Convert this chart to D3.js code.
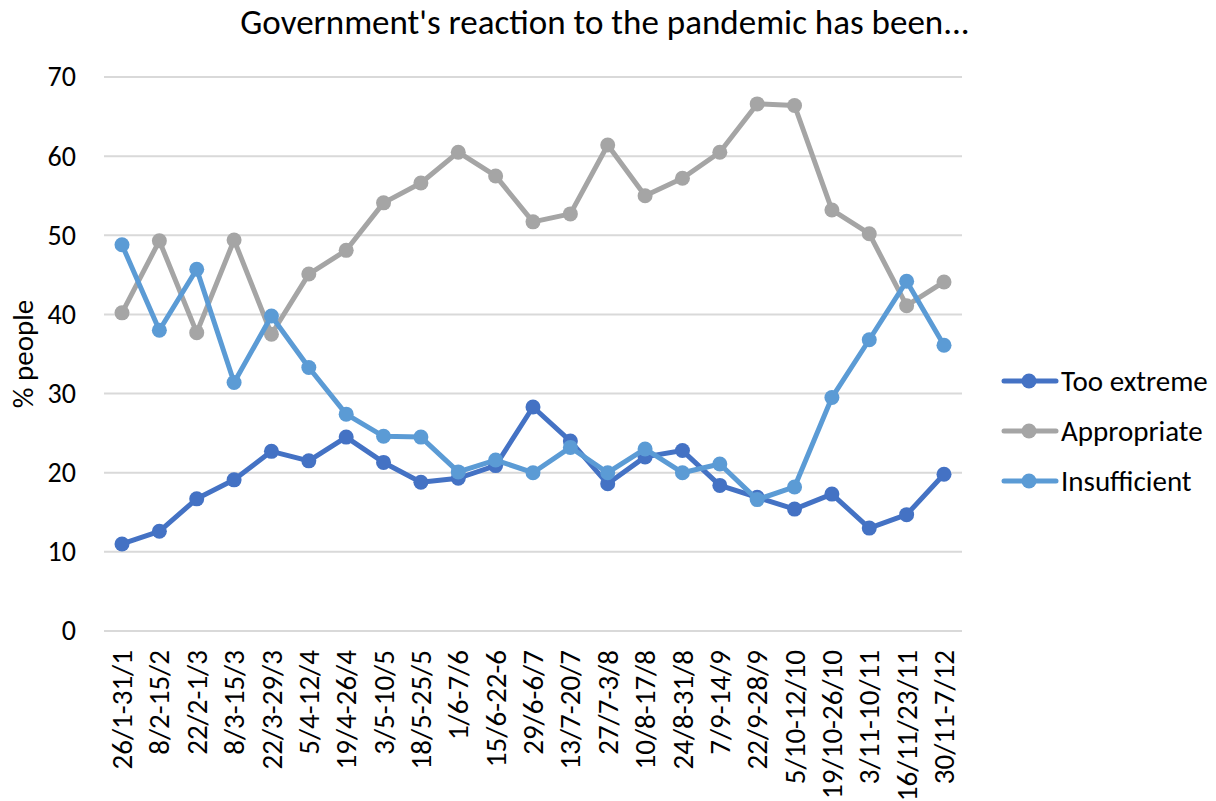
<!DOCTYPE html>
<html>
<head>
<meta charset="utf-8">
<script src="https://cdn.jsdelivr.net/npm/d3@7"></script>
<style>
  body { margin: 0; background: #fff; }
</style>
</head>
<body>
<svg id="chart"></svg>
<script>
// Data
const periods = ["26/1-31/1", "8/2-15/2", "22/2-1/3", "8/3-15/3", "22/3-29/3", "5/4-12/4",
  "19/4-26/4", "3/5-10/5", "18/5-25/5", "1/6-7/6", "15/6-22-6", "29/6-6/7", "13/7-20/7",
  "27/7-3/8", "10/8-17/8", "24/8-31/8", "7/9-14/9", "22/9-28/9", "5/10-12/10",
  "19/10-26/10", "3/11-10/11", "16/11/23/11", "30/11-7/12"];

const tooExtreme = [11.0, 12.6, 16.7, 19.1, 22.7, 21.5, 24.5, 21.3, 18.8, 19.3, 20.9, 28.3,
  24.0, 18.6, 22.0, 22.8, 18.4, 16.9, 15.4, 17.3, 13.0, 14.7, 19.8];
const appropriate = [40.2, 49.3, 37.7, 49.4, 37.5, 45.1, 48.1, 54.1, 56.6, 60.5, 57.5, 51.7,
  52.7, 61.4, 55.0, 57.2, 60.5, 66.6, 66.4, 53.2, 50.2, 41.1, 44.1];
const insufficient = [48.8, 38.0, 45.7, 31.4, 39.8, 33.3, 27.4, 24.6, 24.5, 20.1, 21.6, 20.0,
  23.2, 20.0, 23.0, 20.0, 21.1, 16.6, 18.2, 29.5, 36.8, 44.2, 36.1];

const yTicks = [0, 10, 20, 30, 40, 50, 60, 70];

const series = [
  {name: "Too extreme", values: tooExtreme, color: "#4472c4"},
  {name: "Appropriate", values: appropriate, color: "#a5a5a5"},
  {name: "Insufficient", values: insufficient, color: "#5b9bd5"}
];

const width = 1216, height = 801;
const margin = {top: 77, bottom: 170, left: 104, right: 254};
const font = "Calibri, Carlito, sans-serif";

const svg = d3.select("#chart")
  .attr("width", width)
  .attr("height", height)
  .style("font-family", font);

const xScale = d3.scalePoint()
  .domain(periods)
  .range([122, 944]);

const yScale = d3.scaleLinear()
  .domain([0, 70])
  .range([height - margin.bottom, margin.top]);

// Gridlines
svg.append("g")
  .selectAll("line")
  .data(yTicks)
  .enter().append("line")
  .attr("x1", margin.left)
  .attr("x2", width - margin.right)
  .attr("y1", d => yScale(d))
  .attr("y2", d => yScale(d))
  .attr("stroke", "#d9d9d9")
  .attr("stroke-width", 2);

// Y axis labels
const yAxis = svg.append("g")
  .attr("transform", `translate(${margin.left - 28},0)`)
  .call(d3.axisLeft(yScale).tickValues(yTicks).tickSize(0).tickPadding(0));
yAxis.select(".domain").remove();
yAxis.attr("font-family", font).attr("font-size", 28);
yAxis.selectAll("text")
  .attr("fill", "#000");

// X axis labels
const xAxis = svg.append("g")
  .attr("transform", `translate(0,${height - margin.bottom + 19})`)
  .call(d3.axisBottom(xScale).tickSize(0).tickPadding(0));
xAxis.select(".domain").remove();
xAxis.attr("font-family", font).attr("font-size", 29);
xAxis.selectAll("text")
  .attr("fill", "#000")
  .attr("text-anchor", "end")
  .attr("y", 0)
  .attr("dy", "0.33em")
  .attr("transform", "rotate(-90)");

// Y axis title
svg.append("text")
  .attr("transform", `translate(33,${(yScale(0) + yScale(70)) / 2}) rotate(-90)`)
  .attr("text-anchor", "middle")
  .style("font-size", "29px")
  .text("% people");

// Title
svg.append("text")
  .attr("x", 605)
  .attr("y", 34)
  .attr("text-anchor", "middle")
  .style("font-size", "35px")
  .text("Government's reaction to the pandemic has been...");

// Lines and points
const line = d3.line()
  .x((d, i) => xScale(periods[i]))
  .y(d => yScale(d));

series.forEach(function(s) {
  const g = svg.append("g");
  g.append("path")
    .datum(s.values)
    .attr("d", line)
    .attr("fill", "none")
    .attr("stroke", s.color)
    .attr("stroke-width", 5)
    .attr("stroke-linejoin", "round");
  g.selectAll("circle")
    .data(s.values)
    .enter().append("circle")
    .attr("cx", (d, i) => xScale(periods[i]))
    .attr("cy", d => yScale(d))
    .attr("r", 7.5)
    .attr("fill", s.color);
});

// Legend
const legend = svg.selectAll(".legend")
  .data(series)
  .enter().append("g")
  .attr("class", "legend")
  .attr("transform", (d, i) => `translate(0,${381 + i * 50})`);

legend.append("line")
  .attr("x1", 1004)
  .attr("x2", 1056)
  .attr("stroke", d => d.color)
  .attr("stroke-width", 5)
  .attr("stroke-linecap", "round");

legend.append("circle")
  .attr("cx", 1029)
  .attr("r", 7.5)
  .attr("fill", d => d.color);

legend.append("text")
  .attr("x", 1061)
  .attr("dy", "0.33em")
  .style("font-size", "29px")
  .text(d => d.name);
</script>
</body>
</html>
